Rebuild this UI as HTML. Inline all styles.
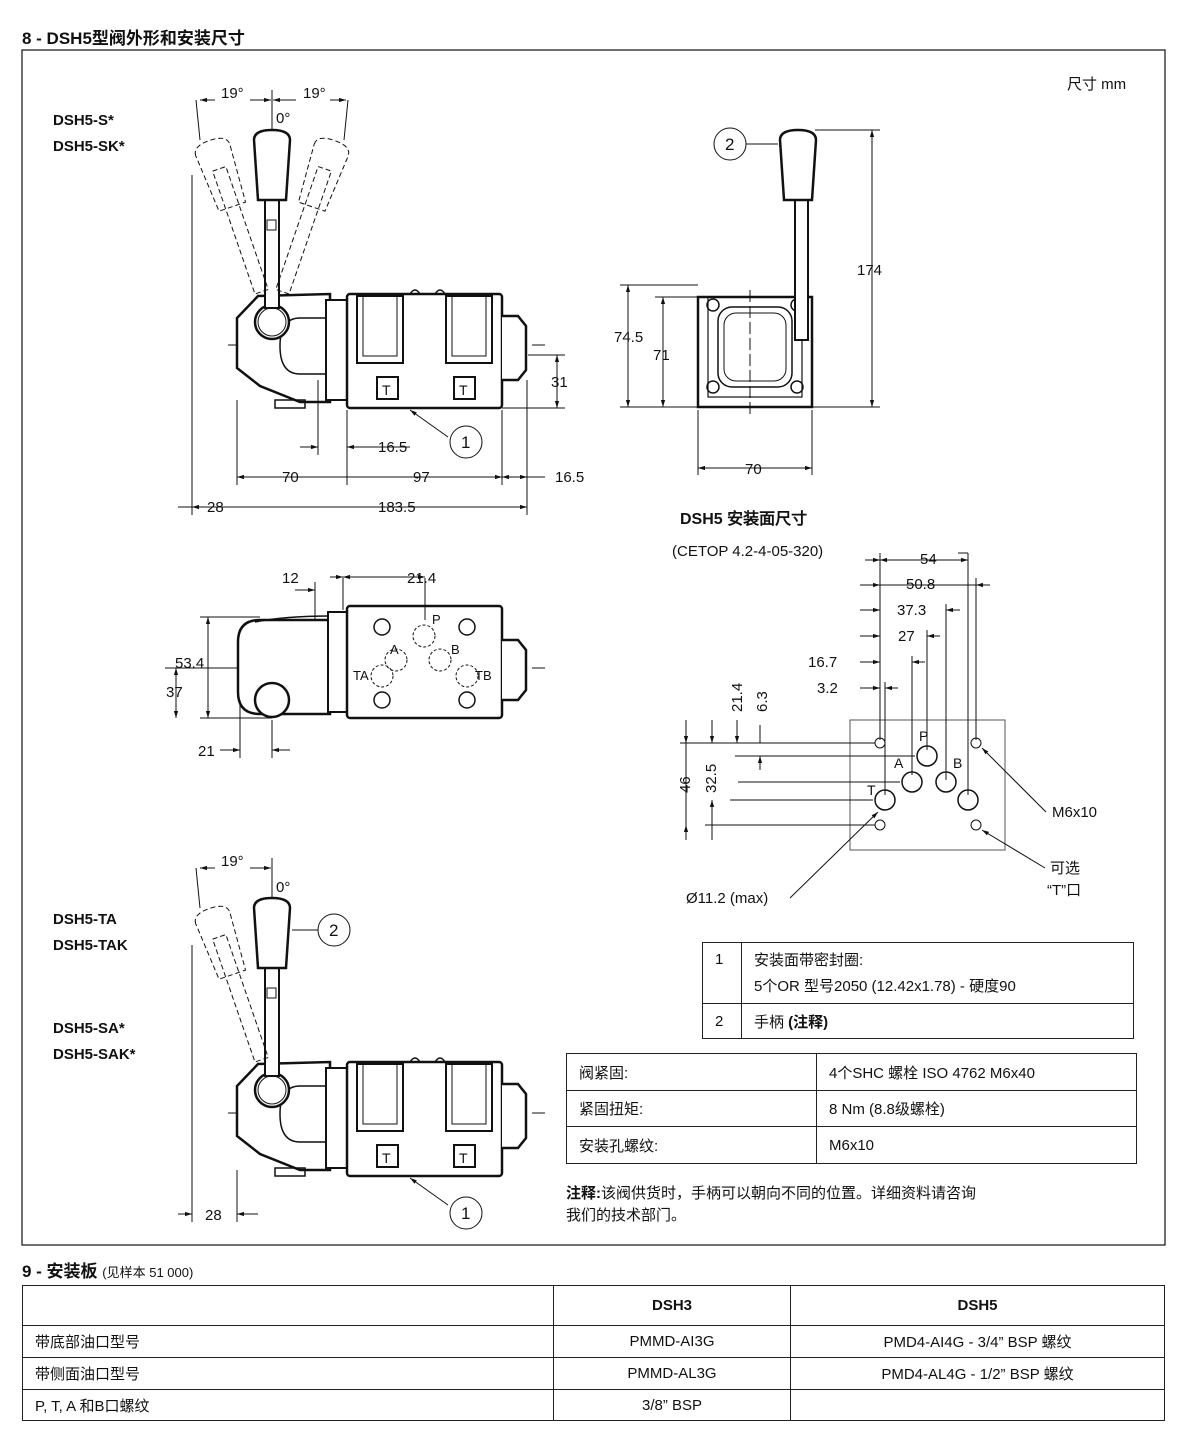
<!DOCTYPE html>
<html><head><meta charset="utf-8"><style>
body{margin:0;background:#fff;width:1200px;height:1434px;position:relative;font-family:"Liberation Sans","Noto Sans CJK SC",sans-serif;color:#111}
.t{position:absolute;font-size:15px;white-space:nowrap}
.b{font-weight:bold}
table{position:absolute;border-collapse:collapse;font-size:15px}
td{border:1px solid #222;padding:0 12px}
svg{position:absolute;left:0;top:0}
</style></head><body>
<div class="t b" style="left:22px;top:24px;font-size:17px">8 - DSH5型阀外形和安装尺寸</div>
<div class="t b" style="left:22px;top:1257px;font-size:17px">9 - 安装板 <span style="font-weight:normal;font-size:13px">(见样本 51 000)</span></div>

<svg width="1200" height="1434" viewBox="0 0 1200 1434" font-family="Liberation Sans, sans-serif" font-size="15" fill="none" stroke="#111">
<defs>
<marker id="a" viewBox="0 0 10 10" refX="10" refY="5" markerWidth="7" markerHeight="7" orient="auto-start-reverse"><path d="M0 2L10 5L0 8z" fill="#111" stroke="none"/></marker>
<g id="valve">
 <line x1="228" y1="345" x2="545" y2="345" stroke-dasharray="14 5" stroke-width="1"/>
 <polygon points="258,296 330,294 330,402 300,402 260,386 237,368 237,318" stroke-width="2.5" fill="#fff"/>
 <path d="M330,318 h-30 q-20,0 -20,28 q0,28 20,28 h30" stroke-width="1.5"/>
 <rect x="326" y="300" width="22" height="100" stroke-width="2" fill="#fff"/>
 <rect x="275" y="400" width="30" height="8" stroke-width="1.5"/>
 <rect x="347" y="294" width="155" height="114" rx="3" stroke-width="2.5" fill="#fff"/>
 <rect x="357" y="296" width="46" height="67" stroke-width="2"/>
 <rect x="363" y="296" width="34" height="60" stroke-width="1"/>
 <rect x="446" y="296" width="46" height="67" stroke-width="2"/>
 <rect x="452" y="296" width="34" height="60" stroke-width="1"/>
 <rect x="377" y="377" width="21" height="22" stroke-width="2"/>
 <rect x="454" y="377" width="21" height="22" stroke-width="2"/>
 <text x="382" y="395" fill="#111" stroke="none" font-size="14">T</text>
 <text x="459" y="395" fill="#111" stroke="none" font-size="14">T</text>
 <path d="M502,316 h16 l8,10 v44 l-8,10 h-16" stroke-width="2.5" fill="#fff"/>
 <circle cx="272" cy="322" r="17" stroke-width="2.5" fill="#fff"/>
 <circle cx="272" cy="322" r="14" stroke-width="1"/>
 <path d="M410,294 q5,-8 10,0 M435,294 q5,-8 10,0" stroke-width="1.5"/>
 <rect x="265" y="160" width="14" height="148" stroke-width="2" fill="#fff"/>
 <rect x="267" y="220" width="9" height="10" stroke-width="1"/>
 <path d="M254,140 q0,-10 18,-10 q18,0 18,10 l-4,60 h-28 z" stroke-width="2.5" fill="#fff"/>
 <g stroke-dasharray="5 3" stroke-width="1">
  <g transform="rotate(-19 272 322)"><rect x="265" y="160" width="14" height="130"/><path d="M254,140 q0,-10 18,-10 q18,0 18,10 l-4,60 h-28 z"/></g>
 </g>
</g>
</defs>

<rect x="22" y="50" width="1143" height="1195" stroke-width="1.2"/>

<!-- top side view -->
<use href="#valve"/>
<g stroke-dasharray="5 3" stroke-width="1"><g transform="rotate(19 272 322)"><rect x="265" y="160" width="14" height="130"/><path d="M254,140 q0,-10 18,-10 q18,0 18,10 l-4,60 h-28 z"/></g></g>
<g stroke-width="1">
<line x1="272" y1="90" x2="272" y2="130"/>
<path d="M196,100 L200,140 M348,100 L344,140"/>
<line x1="200" y1="100" x2="215" y2="100" marker-start="url(#a)"/><line x1="250" y1="100" x2="271" y2="100" marker-end="url(#a)"/>
<line x1="273" y1="100" x2="296" y2="100" marker-start="url(#a)"/><line x1="330" y1="100" x2="346" y2="100" marker-end="url(#a)"/>
<line x1="192" y1="175" x2="192" y2="515"/><line x1="237" y1="400" x2="237" y2="485"/>
<line x1="527" y1="380" x2="527" y2="515"/><line x1="502" y1="410" x2="502" y2="485"/><line x1="347" y1="410" x2="347" y2="485"/>
<line x1="318" y1="380" x2="318" y2="455"/>
<line x1="237" y1="477" x2="502" y2="477" marker-start="url(#a)" marker-end="url(#a)"/>
<line x1="347" y1="477" x2="347" y2="477"/>
<line x1="502" y1="477" x2="527" y2="477" marker-start="url(#a)" marker-end="url(#a)"/>
<line x1="527" y1="477" x2="545" y2="477"/>
<line x1="192" y1="507" x2="527" y2="507" marker-start="url(#a)" marker-end="url(#a)"/>
<line x1="178" y1="507" x2="192" y2="507"/>
<line x1="300" y1="447" x2="318" y2="447" marker-end="url(#a)"/><line x1="347" y1="447" x2="410" y2="447" marker-start="url(#a)"/>
<line x1="528" y1="355" x2="565" y2="355"/><line x1="502" y1="408" x2="565" y2="408"/>
<line x1="557" y1="355" x2="557" y2="408" marker-start="url(#a)" marker-end="url(#a)"/>
<line x1="410" y1="410" x2="448" y2="437" marker-start="url(#a)"/>
<circle cx="466" cy="442" r="16"/>
</g>
<g fill="#111" stroke="none">
<text x="221" y="98">19°</text><text x="303" y="98">19°</text><text x="276" y="123">0°</text>
<text x="282" y="482">70</text><text x="413" y="482">97</text><text x="555" y="482">16.5</text>
<text x="207" y="512">28</text><text x="378" y="512">183.5</text><text x="378" y="452">16.5</text><text x="551" y="387">31</text>
<text x="461" y="448" font-size="17">1</text>
</g>

<!-- end view -->
<g stroke-width="1">
<line x1="750" y1="290" x2="750" y2="415" stroke-dasharray="12 4"/>
<rect x="698" y="297" width="114" height="110" stroke-width="2.5"/>
<rect x="708" y="297" width="94" height="100" stroke-width="1.2"/>
<rect x="718" y="307" width="74" height="80" rx="14" stroke-width="1.5"/>
<rect x="724" y="313" width="62" height="68" rx="12"/>
<circle cx="713" cy="305" r="6" stroke-width="1.5"/><circle cx="797" cy="305" r="6" stroke-width="1.5"/>
<circle cx="713" cy="387" r="6" stroke-width="1.5"/><circle cx="797" cy="387" r="6" stroke-width="1.5"/>
<rect x="795" y="200" width="13" height="140" stroke-width="2" fill="#fff"/>
<path d="M780,140 q0,-10 18,-10 q18,0 18,10 l-4,60 h-28 z" stroke-width="2.5" fill="#fff"/>
<line x1="746" y1="144" x2="778" y2="144"/><circle cx="730" cy="144" r="16"/>
<line x1="815" y1="130" x2="880" y2="130"/><line x1="812" y1="407" x2="880" y2="407"/>
<line x1="872" y1="130" x2="872" y2="407" marker-start="url(#a)" marker-end="url(#a)"/>
<line x1="620" y1="285" x2="698" y2="285"/><line x1="620" y1="407" x2="698" y2="407"/>
<line x1="628" y1="285" x2="628" y2="407" marker-start="url(#a)" marker-end="url(#a)"/>
<line x1="655" y1="297" x2="698" y2="297"/>
<line x1="663" y1="297" x2="663" y2="407" marker-start="url(#a)" marker-end="url(#a)"/>
<line x1="698" y1="410" x2="698" y2="475"/><line x1="812" y1="410" x2="812" y2="475"/>
<line x1="698" y1="468" x2="812" y2="468" marker-start="url(#a)" marker-end="url(#a)"/>
</g>
<g fill="#111" stroke="none">
<text x="725" y="150" font-size="17">2</text><text x="857" y="275">174</text>
<text x="614" y="342">74.5</text><text x="653" y="360">71</text><text x="745" y="474">70</text>
<text x="1067" y="89">尺寸  mm</text>
</g>

<!-- mounting face view (middle left) -->
<g stroke-width="1">
<line x1="228" y1="668" x2="545" y2="668" stroke-dasharray="14 5"/>
<path d="M330,620 h-70 q-22,0 -22,22 v50 q0,22 22,22 h70 z" stroke-width="2.5" fill="#fff"/>
<path d="M255,622 q30,-6 75,-6" stroke-width="1.5"/>
<circle cx="272" cy="700" r="17" stroke-width="2.5" fill="#fff"/>
<rect x="328" y="612" width="20" height="100" stroke-width="2" fill="#fff"/>
<rect x="347" y="606" width="155" height="112" rx="3" stroke-width="2.5" fill="#fff"/>
<path d="M502,640 h16 l8,10 v40 l-8,10 h-16" stroke-width="2.5" fill="#fff"/>
<circle cx="382" cy="627" r="8" stroke-width="1.5"/><circle cx="467" cy="627" r="8" stroke-width="1.5"/>
<circle cx="382" cy="700" r="8" stroke-width="1.5"/><circle cx="467" cy="700" r="8" stroke-width="1.5"/>
<circle cx="424" cy="636" r="11" stroke-dasharray="3 2"/><circle cx="396" cy="660" r="11" stroke-dasharray="3 2"/>
<circle cx="440" cy="660" r="11" stroke-dasharray="3 2"/><circle cx="382" cy="676" r="11" stroke-dasharray="3 2"/><circle cx="467" cy="676" r="11" stroke-dasharray="3 2"/>
<line x1="315" y1="582" x2="315" y2="620"/><line x1="343" y1="578" x2="343" y2="610"/><line x1="425" y1="578" x2="425" y2="620"/>
<line x1="295" y1="590" x2="315" y2="590" marker-end="url(#a)"/><line x1="330" y1="577" x2="343" y2="577" marker-end="url(#a)"/>
<line x1="343" y1="577" x2="425" y2="577" marker-start="url(#a)" marker-end="url(#a)"/>
<line x1="200" y1="617" x2="260" y2="617"/><line x1="165" y1="668" x2="230" y2="668"/><line x1="200" y1="718" x2="272" y2="718"/>
<line x1="208" y1="617" x2="208" y2="718" marker-start="url(#a)" marker-end="url(#a)"/>
<line x1="176" y1="668" x2="176" y2="718" marker-start="url(#a)" marker-end="url(#a)"/>
<line x1="240" y1="700" x2="240" y2="758"/><line x1="272" y1="720" x2="272" y2="758"/>
<line x1="220" y1="750" x2="240" y2="750" marker-end="url(#a)"/><line x1="290" y1="750" x2="272" y2="750" marker-end="url(#a)"/>
</g>
<g fill="#111" stroke="none">
<text x="282" y="583">12</text><text x="407" y="583">21.4</text><text x="175" y="668">53.4</text><text x="166" y="697">37</text><text x="198" y="756">21</text>
<text x="432" y="624" font-size="13">P</text><text x="390" y="654" font-size="13">A</text><text x="451" y="654" font-size="13">B</text>
<text x="353" y="680" font-size="13">TA</text><text x="475" y="680" font-size="13">TB</text>
</g>

<!-- mounting surface dims -->
<g fill="#111" stroke="none">
<text x="680" y="524" font-size="16" font-weight="bold">DSH5  安装面尺寸</text>
<text x="672" y="556">(CETOP 4.2-4-05-320)</text>
<text x="920" y="564">54</text><text x="906" y="589">50.8</text><text x="897" y="615">37.3</text><text x="898" y="641">27</text>
<text x="808" y="667">16.7</text><text x="817" y="693">3.2</text>
<text x="1052" y="817">M6x10</text><text x="1050" y="873">可选</text><text x="1047" y="895">“T”口</text>
<text x="686" y="903">Ø11.2 (max)</text>
<text x="919" y="741" font-size="14">P</text><text x="894" y="768" font-size="14">A</text><text x="953" y="768" font-size="14">B</text><text x="867" y="795" font-size="14">T</text>
<text transform="translate(742 712) rotate(-90)">21.4</text><text transform="translate(767 712) rotate(-90)">6.3</text>
<text transform="translate(690 793) rotate(-90)">46</text><text transform="translate(716 793) rotate(-90)">32.5</text>
</g>
<g stroke-width="1">
<rect x="850" y="720" width="155" height="130" stroke-width="1" stroke="#555"/>
<circle cx="880" cy="743" r="5"/><circle cx="976" cy="743" r="5"/><circle cx="880" cy="825" r="5"/><circle cx="976" cy="825" r="5"/>
<circle cx="927" cy="756" r="10" stroke-width="1.5"/><circle cx="912" cy="782" r="10" stroke-width="1.5"/><circle cx="946" cy="782" r="10" stroke-width="1.5"/>
<circle cx="885" cy="800" r="10" stroke-width="1.5"/><circle cx="968" cy="800" r="10" stroke-width="1.5"/>
<line x1="880" y1="553" x2="880" y2="740"/><line x1="976" y1="578" x2="976" y2="740"/><line x1="946" y1="604" x2="946" y2="780"/>
<line x1="927" y1="630" x2="927" y2="750"/><line x1="912" y1="656" x2="912" y2="775"/><line x1="885" y1="682" x2="885" y2="795"/>
<line x1="958" y1="553" x2="968" y2="553" /><line x1="968" y1="553" x2="968" y2="795"/>
<line x1="865" y1="560" x2="880" y2="560" marker-end="url(#a)"/><line x1="880" y1="560" x2="968" y2="560" marker-start="url(#a)" marker-end="url(#a)"/>
<line x1="860" y1="585" x2="880" y2="585" marker-end="url(#a)"/><line x1="880" y1="585" x2="990" y2="585"/><line x1="990" y1="585" x2="976" y2="585" marker-end="url(#a)"/>
<line x1="860" y1="610" x2="880" y2="610" marker-end="url(#a)"/><line x1="960" y1="610" x2="946" y2="610" marker-end="url(#a)"/>
<line x1="860" y1="636" x2="880" y2="636" marker-end="url(#a)"/><line x1="940" y1="636" x2="927" y2="636" marker-end="url(#a)"/>
<line x1="860" y1="662" x2="880" y2="662" marker-end="url(#a)"/><line x1="925" y1="662" x2="912" y2="662" marker-end="url(#a)"/>
<line x1="860" y1="688" x2="880" y2="688" marker-end="url(#a)"/><line x1="898" y1="688" x2="885" y2="688" marker-end="url(#a)"/>
<line x1="680" y1="743" x2="875" y2="743"/><line x1="735" y1="756" x2="915" y2="756"/><line x1="760" y1="725" x2="760" y2="743"/>
<line x1="705" y1="825" x2="875" y2="825"/><line x1="730" y1="800" x2="873" y2="800"/>
<line x1="738" y1="782" x2="900" y2="782"/>
<line x1="686" y1="720" x2="686" y2="743" marker-end="url(#a)"/><line x1="686" y1="743" x2="686" y2="825" /><line x1="686" y1="840" x2="686" y2="825" marker-end="url(#a)"/>
<line x1="712" y1="720" x2="712" y2="743" marker-end="url(#a)"/><line x1="712" y1="840" x2="712" y2="800" marker-end="url(#a)"/>
<line x1="737" y1="720" x2="737" y2="743" marker-end="url(#a)"/><line x1="760" y1="770" x2="760" y2="756" marker-end="url(#a)"/>
<line x1="1046" y1="812" x2="982" y2="748" marker-end="url(#a)"/>
<line x1="1045" y1="868" x2="982" y2="830" marker-end="url(#a)"/>
<line x1="790" y1="898" x2="878" y2="812" marker-end="url(#a)"/>
</g>

<!-- bottom side view -->
<use href="#valve" transform="translate(0 768)"/>
<g stroke-width="1">
<line x1="272" y1="858" x2="272" y2="898"/><path d="M196,868 L200,908"/>
<line x1="200" y1="868" x2="215" y2="868" marker-start="url(#a)"/><line x1="250" y1="868" x2="271" y2="868" marker-end="url(#a)"/>
<line x1="192" y1="945" x2="192" y2="1222"/><line x1="237" y1="1170" x2="237" y2="1222"/>
<line x1="178" y1="1214" x2="192" y2="1214" marker-end="url(#a)"/><line x1="258" y1="1214" x2="237" y2="1214" marker-end="url(#a)"/>
<line x1="318" y1="930" x2="292" y2="930"/><circle cx="334" cy="930" r="16"/>
<line x1="410" y1="1178" x2="448" y2="1205" marker-start="url(#a)"/><circle cx="466" cy="1213" r="16"/>
</g>
<g fill="#111" stroke="none">
<text x="221" y="866">19°</text><text x="276" y="892">0°</text><text x="205" y="1220">28</text>
<text x="329" y="936" font-size="17">2</text><text x="461" y="1219" font-size="17">1</text>
</g>
</svg>

<div class="t b" style="left:53px;top:108px;line-height:26px">DSH5-S*<br>DSH5-SK*</div>
<div class="t b" style="left:53px;top:907px;line-height:26px">DSH5-TA<br>DSH5-TAK</div>
<div class="t b" style="left:53px;top:1016px;line-height:26px">DSH5-SA*<br>DSH5-SAK*</div>

<table style="left:702px;top:942px;width:432px">
<tr style="height:61px"><td style="width:14px;vertical-align:top;padding-top:8px">1</td><td style="line-height:26px;padding-top:2px">安装面带密封圈:<br>5个OR 型号2050 (12.42x1.78) - 硬度90</td></tr>
<tr style="height:35px"><td>2</td><td>手柄 <b>(注释)</b></td></tr>
</table>
<table style="left:566px;top:1053px;width:571px">
<tr style="height:37px"><td style="width:225px">阀紧固:</td><td>4个SHC 螺栓 ISO 4762  M6x40</td></tr>
<tr style="height:36px"><td>紧固扭矩:</td><td>8 Nm (8.8级螺栓)</td></tr>
<tr style="height:37px"><td>安装孔螺纹:</td><td>M6x10</td></tr>
</table>
<div class="t" style="left:566px;top:1183px;line-height:22px"><b>注释:</b>该阀供货时，手柄可以朝向不同的位置。详细资料请咨询<br>我们的技术部门。</div>

<table style="left:22px;top:1285px;width:1143px;text-align:center">
<tr style="height:40px"><td style="width:506px"></td><td style="width:212px" class="b">DSH3</td><td class="b">DSH5</td></tr>
<tr style="height:32px"><td style="text-align:left">带底部油口型号</td><td>PMMD-AI3G</td><td>PMD4-AI4G - 3/4” BSP 螺纹</td></tr>
<tr style="height:32px"><td style="text-align:left">带侧面油口型号</td><td>PMMD-AL3G</td><td>PMD4-AL4G - 1/2” BSP 螺纹</td></tr>
<tr style="height:31px"><td style="text-align:left">P, T, A 和B口螺纹</td><td>3/8” BSP</td><td></td></tr>
</table>
</body></html>
